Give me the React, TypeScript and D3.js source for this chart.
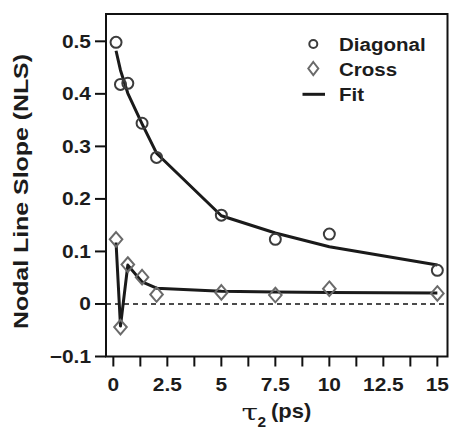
import React from "react";
import * as d3 from "d3";

const tauValues = [0.125, 0.33, 0.67, 1.33, 2, 5, 7.5, 10, 15];
const diagonalValues = [0.498, 0.418, 0.42, 0.344, 0.279, 0.169, 0.123, 0.133, 0.064];
const crossValues = [0.123, -0.044, 0.075, 0.051, 0.018, 0.022, 0.017, 0.029, 0.02];
const diagonalFit = [0.482, 0.445, 0.401, 0.343, 0.287, 0.168, 0.135, 0.109, 0.074];
const crossFit = [0.117, -0.042, 0.074, 0.042, 0.03, 0.024, 0.023, 0.022, 0.021];
const xTickValues = [0, 1.25, 2.5, 3.75, 5, 6.25, 7.5, 8.75, 10, 11.25, 12.5, 13.75, 15];
const xTickLabels = ["0", "", "2.5", "", "5", "", "7.5", "", "10", "", "12.5", "", "15"];
const yTickValues = [-0.1, 0, 0.1, 0.2, 0.3, 0.4, 0.5];
const yTickLabels = ["\u22120.1", "0", "0.1", "0.2", "0.3", "0.4", "0.5"];
const legendLabels = ["Diagonal", "Cross", "Fit"];

const FONT = "'Liberation Sans', Arial, Helvetica, sans-serif";
const INK = "#1c1c1c";

function SText(props: { x: number; y: number; sx?: number; size: number; anchor?: string; family?: string; weight?: string; children: React.ReactNode }) {
  const { x, y, sx = 1.1, size, anchor = "start", family = FONT, weight = "bold", children } = props;
  return (
    <g transform={`translate(${x},${y}) scale(${sx},1)`}>
      <text x={0} y={0} textAnchor={anchor} fontFamily={family} fontWeight={weight} fontSize={size} fill={INK}>
        {children}
      </text>
    </g>
  );
}

export default function App() {
  const left = 106, right = 447.5, top = 14, bottom = 356.5;
  const x = d3.scaleLinear().domain([-0.34, 15.47]).range([left, right]);
  const y = d3.scaleLinear().domain([-0.1, 0.552]).range([bottom, top]);
  const line = d3.line<[number, number]>().x(d => x(d[0])).y(d => y(d[1]));
  const diagFitPts = tauValues.map((t, i) => [t, diagonalFit[i]] as [number, number]);
  const crossFitPts = tauValues.map((t, i) => [t, crossFit[i]] as [number, number]);
  const diamond = (cx: number, cy: number, w: number, h: number) =>
    `M${cx},${cy - h}L${cx + w},${cy}L${cx},${cy + h}L${cx - w},${cy}Z`;

  return (
    <svg width={450} height={430} style={{ position: "absolute", left: 0, top: 0, background: "#fff" }}>
      <rect x={0} y={0} width={450} height={430} fill="#fff" />
      {/* zero line */}
      <line x1={left} x2={right} y1={y(0)} y2={y(0)} stroke="#111" strokeWidth={1.5} strokeDasharray="5,4" />
      {/* fit lines */}
      <path d={line(diagFitPts) || ""} fill="none" stroke="#1a1a1a" strokeWidth={3} strokeLinejoin="round" />
      <path d={line(crossFitPts) || ""} fill="none" stroke="#1a1a1a" strokeWidth={3} strokeLinejoin="round" />
      {/* markers */}
      {tauValues.map((t, i) => (
        <circle key={"c" + i} cx={x(t)} cy={y(diagonalValues[i])} r={5.5} fill="none" stroke="#3c3c3c" strokeWidth={2} />
      ))}
      {tauValues.map((t, i) => (
        <path key={"d" + i} d={diamond(x(t), y(crossValues[i]), 6.3, 7.3)} fill="none" stroke="#6a6a6a" strokeWidth={2} />
      ))}
      {/* frame */}
      <rect x={left} y={top} width={right - left} height={bottom - top} fill="none" stroke="#111" strokeWidth={2} />
      {/* x ticks */}
      {xTickValues.map((t, i) => (
        <g key={"xt" + i}>
          <line x1={x(t)} x2={x(t)} y1={bottom} y2={bottom + 10} stroke="#111" strokeWidth={2} />
          {xTickLabels[i] && (
            <SText x={x(t)} y={391} size={19} anchor="middle">
              {xTickLabels[i]}
            </SText>
          )}
        </g>
      ))}
      {/* y ticks */}
      {yTickValues.map((v, i) => (
        <g key={"yt" + i}>
          <line x1={left - 11} x2={left} y1={y(v)} y2={y(v)} stroke="#111" strokeWidth={2} />
          <SText x={91} y={y(v) + 6.5} size={19} anchor="end">
            {yTickLabels[i]}
          </SText>
        </g>
      ))}
      {/* axis titles */}
      <text
        transform="translate(28,191.5) rotate(-90)"
        textAnchor="middle"
        fontFamily={FONT}
        fontWeight="bold"
        fontSize={20}
        textLength={275}
        lengthAdjust="spacingAndGlyphs"
        fill={INK}
      >
        Nodal Line Slope (NLS)
      </text>
      <SText x={241.5} y={420} size={23} sx={1.3} weight="normal" family="'DejaVu Serif', 'Liberation Serif', serif">τ</SText>
      <SText x={257.5} y={427} size={14}>2</SText>
      <SText x={271} y={418} size={20}>(ps)</SText>
      {/* legend */}
      <circle cx={313.3} cy={44} r={4} fill="none" stroke="#3c3c3c" strokeWidth={2} />
      <path d={diamond(313.3, 68.5, 5, 6.5)} fill="none" stroke="#6a6a6a" strokeWidth={2} />
      <line x1={302.5} x2={325} y1={94.3} y2={94.3} stroke="#1a1a1a" strokeWidth={3} />
      {legendLabels.map((l, i) => (
        <SText key={l} x={339} y={51 + i * 25} size={19} sx={1.08}>
          {l}
        </SText>
      ))}
    </svg>
  );
}
